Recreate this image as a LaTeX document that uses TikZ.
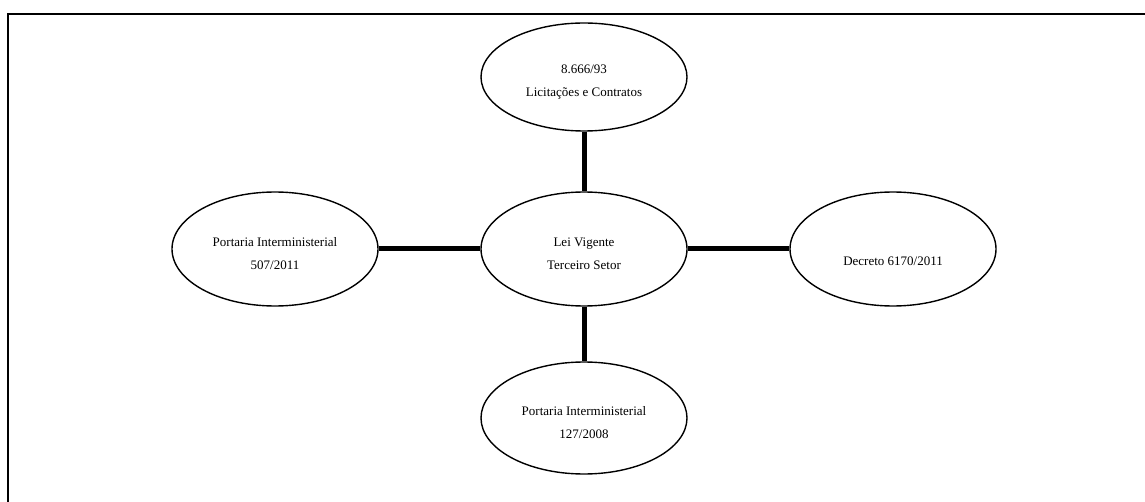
\documentclass[tikz,border=0pt]{standalone}
\usepackage{fontspec}
\setmainfont{Liberation Serif}
\usetikzlibrary{shapes.geometric}
\begin{document}
\begin{tikzpicture}[x=1pt,y=-1pt,
  lawbox/.style={ellipse,draw,line width=1.4pt,inner sep=0pt,
    minimum width=206pt,minimum height=114pt},
  lawtext/.style={align=center,inner sep=0pt,yshift=-5pt,
    font=\fontsize{13}{23}\selectfont},
  link/.style={line width=5pt}]
  \useasboundingbox (0,0) rectangle (1145,502);
  % open frame: top and left edges only
  \draw[line width=2.6pt] (8,503) -- (8,14) -- (1146,14);
  % ellipses with their captions
  \node[lawbox,minimum height=108pt,label={[lawtext]center:8.666/93\\Licitações e Contratos}] (lic) at (584,77) {};
  \node[lawbox,label={[lawtext]center:Lei Vigente\\Terceiro Setor}] (lei) at (584,249) {};
  \node[lawbox,label={[lawtext]center:Portaria Interministerial\\507/2011}] (p507) at (275,249) {};
  \node[lawbox,label={[lawtext]center:~\\Decreto 6170/2011}] (dec) at (893,249) {};
  \node[lawbox,minimum height=112pt,label={[lawtext]center:Portaria Interministerial\\127/2008}] (p127) at (584,418) {};
  % connectors
  \draw[link] (lic) -- (lei);
  \draw[link] (p507) -- (lei);
  \draw[link] (lei) -- (dec);
  \draw[link] (lei) -- (p127);
\end{tikzpicture}
\end{document}
